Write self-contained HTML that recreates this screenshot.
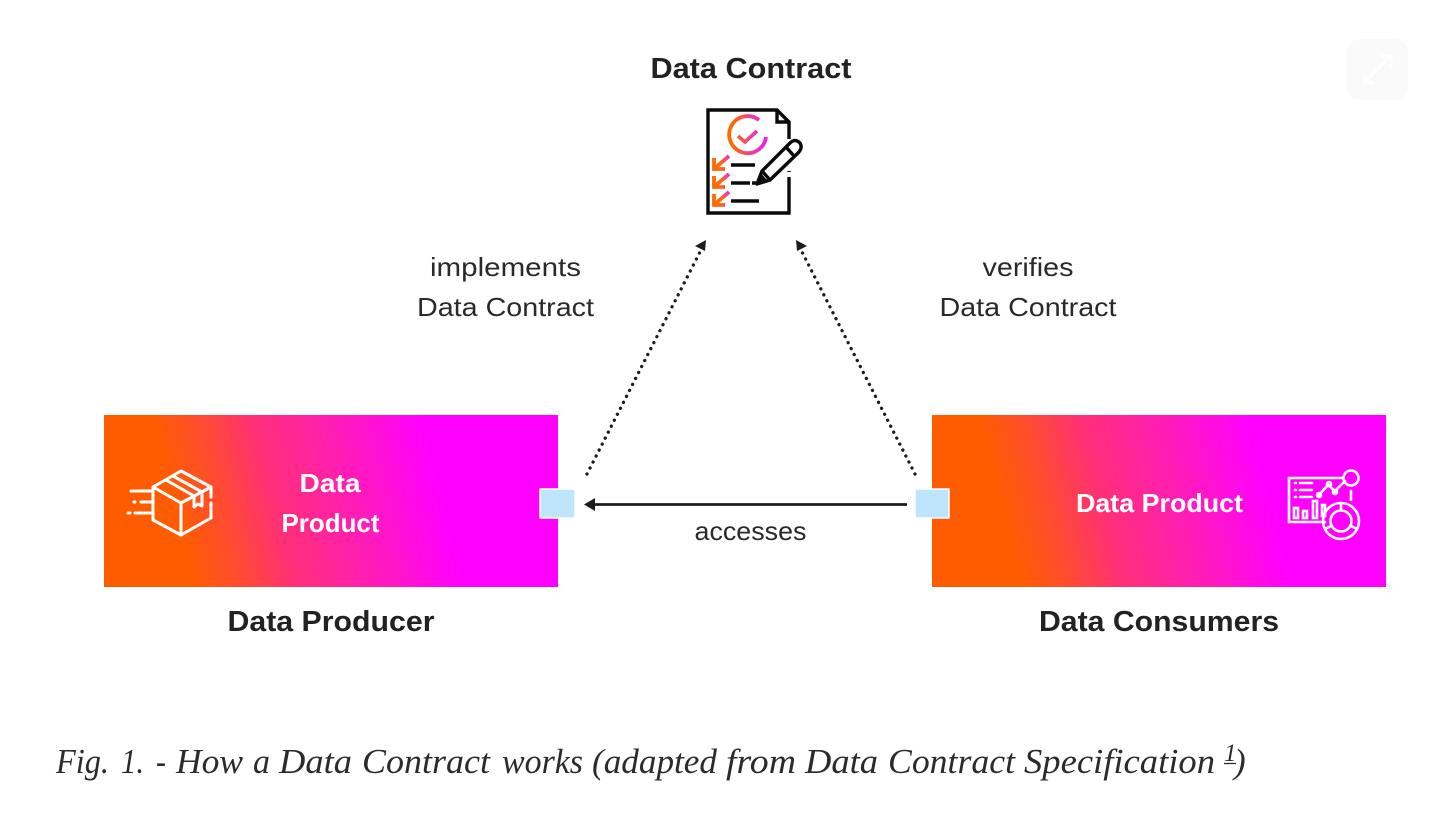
<!DOCTYPE html>
<html><head><meta charset="utf-8"><style>
html,body{margin:0;padding:0;background:#fff;width:1456px;height:815px;overflow:hidden}
svg{display:block}
text{font-family:"Liberation Sans",sans-serif;fill:#222}
.b{font-weight:700;font-size:29px}
.r{font-size:26px;fill:#2a2a2a}
.w{font-weight:700;font-size:26px;fill:#fff}
.c{font-family:"Liberation Serif",serif;font-style:italic;font-size:35px;fill:#2b2b2b}
</style></head><body>
<svg width="1456" height="815" viewBox="0 0 1456 815" xmlns="http://www.w3.org/2000/svg">
<defs>
<linearGradient id="g1" gradientUnits="userSpaceOnUse" x1="172" y1="501" x2="427" y2="437">
<stop offset="0" stop-color="#ff5c00"/><stop offset=".18" stop-color="#ff4c30"/><stop offset=".38" stop-color="#ff2f78"/><stop offset=".68" stop-color="#ff1cb8"/><stop offset="1" stop-color="#ff00ff"/></linearGradient>
<linearGradient id="g2" gradientUnits="userSpaceOnUse" x1="1000" y1="501" x2="1255" y2="437">
<stop offset="0" stop-color="#ff5c00"/><stop offset=".18" stop-color="#ff4c30"/><stop offset=".38" stop-color="#ff2f78"/><stop offset=".68" stop-color="#ff1cb8"/><stop offset="1" stop-color="#ff00ff"/></linearGradient>
<linearGradient id="ig" gradientUnits="userSpaceOnUse" x1="732" y1="0" x2="766" y2="0"><stop offset="0" stop-color="#ff6a00"/><stop offset="1" stop-color="#e81cff"/></linearGradient>
<linearGradient id="ck" gradientUnits="userSpaceOnUse" x1="714" y1="0" x2="731" y2="0"><stop offset="0" stop-color="#ff6a00"/><stop offset=".45" stop-color="#ff6a10"/><stop offset="1" stop-color="#e81cff"/></linearGradient>
</defs>

<!-- expand button -->
<rect x="1347" y="39" width="61" height="61" rx="13" fill="#fafafa"/>
<g stroke="#fff" stroke-width="3" fill="none"><path d="M1364 83L1391 56M1381 56h10v10M1364 73v10h10"/></g>

<text class="b" x="751" y="78" text-anchor="middle" textLength="201" lengthAdjust="spacingAndGlyphs">Data Contract</text>

<!-- contract icon -->
<g fill="none" stroke-width="3.4">
<path d="M789 139V122L777 110H708V213H789V177M789 171v1M777 110V122H789" stroke="#0a0a0a"/>
<path d="M759 120A18.500 18.500 0 1 0 766 137" stroke="url(#ig)" stroke-width="3.800"/>
<path d="M738 136L745 142L757 131" stroke="url(#ig)" stroke-width="3.600"/>
<path d="M714 158v11h11M715 168L729 156" stroke="url(#ck)" stroke-width="3.800"/>
<path d="M714 176v11h11M715 186L729 174" stroke="url(#ck)" stroke-width="3.800"/>
<path d="M714 194v11h11M715 204L729 192" stroke="url(#ck)" stroke-width="3.800"/>
<path d="M731 165H755M731 183H750M752 183H756M731 201H759" stroke="#0a0a0a"/>
<path d="M757 184L762 171L790 143Q795 138 800 143Q803 148 798 153L770 180ZM762 171L770 180M786 147L794 156" stroke="#0a0a0a" stroke-linejoin="round"/>
<path d="M757 184L761 174L767 181Z" fill="#0a0a0a" stroke="#0a0a0a" stroke-width="1"/>
</g>

<text class="r" x="505.500" y="276" text-anchor="middle" textLength="151" lengthAdjust="spacingAndGlyphs">implements</text>
<text class="r" x="505.500" y="316" text-anchor="middle" textLength="177" lengthAdjust="spacingAndGlyphs">Data Contract</text>
<text class="r" x="1028" y="276" text-anchor="middle" textLength="91" lengthAdjust="spacingAndGlyphs">verifies</text>
<text class="r" x="1028" y="316" text-anchor="middle" textLength="177" lengthAdjust="spacingAndGlyphs">Data Contract</text>

<!-- boxes -->
<rect x="104" y="415" width="454" height="172" fill="url(#g1)"/>
<rect x="932" y="415" width="454" height="172" fill="url(#g2)"/>

<text class="w" x="330" y="492" text-anchor="middle" textLength="61" lengthAdjust="spacingAndGlyphs">Data</text>
<text class="w" x="330.500" y="532" text-anchor="middle" textLength="98" lengthAdjust="spacingAndGlyphs">Product</text>
<text class="w" x="1159.500" y="512" text-anchor="middle" textLength="167" lengthAdjust="spacingAndGlyphs">Data Product</text>

<!-- package icon -->
<g fill="none" stroke="#fff" stroke-width="3" stroke-linejoin="round" stroke-linecap="round">
<path d="M211 497V487L181 471L153 487V520L181 535L211 518V503"/>
<path d="M153 487L181 503L211 487M181 503V535"/>
<path d="M166 480L194 496M173 476L202 492M194 496V507L198 504L202 506V492"/>
<path d="M131 491H152M134 502H135M141 502H152M128 513H130M135 513H152"/>
</g>

<!-- analytics icon -->
<g fill="none" stroke="#fff" stroke-width="2.600" stroke-linecap="round">
<path d="M1343 478H1289V522H1325"/>
<circle cx="1351" cy="478" r="7.500"/>
<circle cx="1341" cy="521" r="18"/><circle cx="1341" cy="521" r="10.500"/>
<path d="M1341 503V510M1325 529L1331 526M1357 529L1351 526"/>
<path d="M1351 491V500M1319 495L1328 485L1335 491L1345 481"/>
<circle cx="1319" cy="495" r="2"/><circle cx="1329" cy="484" r="2"/><circle cx="1335" cy="492" r="2"/>
<path d="M1295 483H1296M1295 490H1296M1295 497H1296M1300 483H1312M1300 490H1312M1300 497H1312"/>
<rect x="1294" y="508" width="4" height="10"/><rect x="1303" y="511" width="4" height="7"/><rect x="1313" y="501" width="4" height="17"/><rect x="1322" y="505" width="3" height="11"/>
</g>

<!-- connectors -->
<path d="M587 474L702 248" stroke="#1c1c1c" stroke-width="3.300" stroke-dasharray="0.1 6.600" stroke-linecap="round" fill="none"/>
<path d="M706 240L695 246L705 251Z" fill="#1c1c1c"/>
<path d="M915 474L800 248" stroke="#1c1c1c" stroke-width="3.300" stroke-dasharray="0.1 6.600" stroke-linecap="round" fill="none"/>
<path d="M796 240L807 246L797 251Z" fill="#1c1c1c"/>
<path d="M592 504.500H907" stroke="#1c1c1c" stroke-width="2.800"/>
<path d="M584 504.500L595 498V511Z" fill="#1c1c1c"/>

<rect x="540" y="489" width="35" height="29" fill="#bde5fb" stroke="#fff" stroke-width="1.500"/>
<rect x="915" y="489" width="34" height="29" fill="#bde5fb" stroke="#fff" stroke-width="1.500"/>

<text class="r" x="750.500" y="540" text-anchor="middle" textLength="112" lengthAdjust="spacingAndGlyphs">accesses</text>
<text class="b" x="331" y="631" text-anchor="middle" textLength="207" lengthAdjust="spacingAndGlyphs">Data Producer</text>
<text class="b" x="1159" y="631" text-anchor="middle" textLength="240" lengthAdjust="spacingAndGlyphs">Data Consumers</text>

<!-- caption placed word by word -->
<text class="c" x="56" y="773" textLength="53" lengthAdjust="spacingAndGlyphs">Fig.</text>
<text class="c" x="121" y="773" textLength="23" lengthAdjust="spacingAndGlyphs">1.</text>
<text class="c" x="156" y="773" textLength="10" lengthAdjust="spacingAndGlyphs">-</text>
<text class="c" x="176" y="773" textLength="67" lengthAdjust="spacingAndGlyphs">How</text>
<text class="c" x="253" y="773" textLength="17" lengthAdjust="spacingAndGlyphs">a</text>
<text class="c" x="279" y="773" textLength="73" lengthAdjust="spacingAndGlyphs">Data</text>
<text class="c" x="362" y="773" textLength="128" lengthAdjust="spacingAndGlyphs">Contract</text>
<text class="c" x="502" y="773" textLength="81" lengthAdjust="spacingAndGlyphs">works</text>
<text class="c" x="592" y="773" textLength="125" lengthAdjust="spacingAndGlyphs">(adapted</text>
<text class="c" x="726" y="773" textLength="70" lengthAdjust="spacingAndGlyphs">from</text>
<text class="c" x="805" y="773" textLength="73" lengthAdjust="spacingAndGlyphs">Data</text>
<text class="c" x="888" y="773" textLength="127" lengthAdjust="spacingAndGlyphs">Contract</text>
<text class="c" x="1024" y="773" textLength="191" lengthAdjust="spacingAndGlyphs">Specification</text>
<text class="c" x="1224" y="761" style="font-size:25px">1</text>
<path d="M1224 763.500H1236" stroke="#2b2b2b" stroke-width="1.300"/>
<text class="c" x="1234" y="773">)</text>
</svg>
</body></html>
